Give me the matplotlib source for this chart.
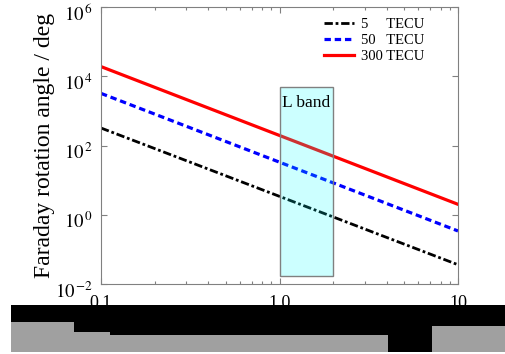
import numpy as np
import matplotlib
matplotlib.use('Agg')
import matplotlib.pyplot as plt
from matplotlib.patches import Rectangle
from matplotlib.transforms import ScaledTranslation

plt.rcParams['font.family'] = ['Liberation Serif', 'DejaVu Serif']
plt.rcParams['mathtext.fontset'] = 'stix'

# data (rotation falls as 1/f^2, so two end points per line)
freq = [0.1, 10.0]
rot_5 = [3.2e2, 3.6e-2]
rot_50 = [3.2e3, 3.4e-1]
rot_300 = [1.9e4, 2.0]
labels = ['5     TECU', '50   TECU', '300 TECU']
lband = [1.0, 2.0]
lband_y = [1.7e-2, 5.0e3]

yticks = [1e-2, 1e0, 1e2, 1e4, 1e6]
ytick_labels = [r'$10^{\,\mathrm{-}2}$', r'$10^{\,0}$', r'$10^{\,2}$', r'$10^{\,4}$', r'$10^{\,6}$']
xticks = [0.1, 1.0, 10]
xtick_labels = ['0.1', '1.0', '10']

fig = plt.figure(figsize=(5.06, 3.54), dpi=100)
ax = fig.add_axes([101/506, 1-284/354, (458-101)/506, (284-7)/354])

ax.plot(freq, rot_5, color='black', lw=2.0, ls=(0, (3.0, 1.0, 1.0, 1.0)), label=labels[0])
ax.plot(freq, rot_50, color='blue', lw=2.3, ls=(0, (2.0, 1.2)), label=labels[1])
ax.plot(freq, rot_300, color='red', lw=2.3, label=labels[2])

# L band box, drawn over the lines
ax.add_patch(Rectangle((lband[0], lband_y[0]), lband[1]-lband[0], lband_y[1]-lband_y[0],
                       facecolor=(0, 1, 1, 0.2), edgecolor='gray', lw=1.0, zorder=3))
ax.text(np.sqrt(lband[0]*lband[1]), 1.7e3, 'L band', ha='center', va='center', fontsize=12.5, zorder=4)

ax.set_xscale('log')
ax.set_yscale('log')
ax.set_xlim(0.1, 10)
ax.set_ylim(1e-2, 1e6)
ax.set_yticks(yticks)
ax.set_yticklabels(ytick_labels, fontsize=13.5)
ax.yaxis.set_minor_locator(matplotlib.ticker.NullLocator())
ax.set_xticks(xticks)
ax.set_xticklabels(xtick_labels, fontsize=13)
ax.tick_params(which='both', direction='in', top=True, right=True, color='gray')
ax.tick_params(which='major', length=4, width=0.8)
ax.tick_params(which='minor', length=2.5, width=0.8)
ax.tick_params(axis='x', pad=8)
ax.tick_params(axis='y', pad=6)
for s in ax.spines.values():
    s.set_color('gray')

# y labels sit a little below their ticks in the original
shift = ScaledTranslation(0, -0.055, fig.dpi_scale_trans)
for lab in ax.get_yticklabels():
    lab.set_transform(lab.get_transform() + shift)

ax.set_ylabel('Faraday rotation angle / deg', fontsize=17, labelpad=0)
ax.set_xlabel('Frequency / GHz', fontsize=14)

ax.legend(loc='upper left', bbox_to_anchor=(0.595, 1.0), frameon=False, fontsize=10.5,
          handlelength=2.0, handletextpad=0.5, labelspacing=0.2, borderaxespad=0.35)

# corrupted strip at the bottom of the original image
def px_rect(x0, y0, x1, y1, c):
    fig.add_artist(Rectangle((x0/506, 1-y1/354), (x1-x0)/506, (y1-y0)/354,
                             transform=fig.transFigure, facecolor=c, edgecolor='none', zorder=5))

px_rect(11, 305, 506, 354, 'black')
px_rect(11, 322, 74, 352, '#a0a0a0')
px_rect(74, 332, 110, 352, '#a0a0a0')
px_rect(110, 335, 388, 352, '#a0a0a0')
px_rect(432, 326, 506, 352, '#a0a0a0')
px_rect(0, 352, 506, 354, 'white')
px_rect(0, 305, 11, 354, 'white')

fig.savefig('out.png', dpi=100)
